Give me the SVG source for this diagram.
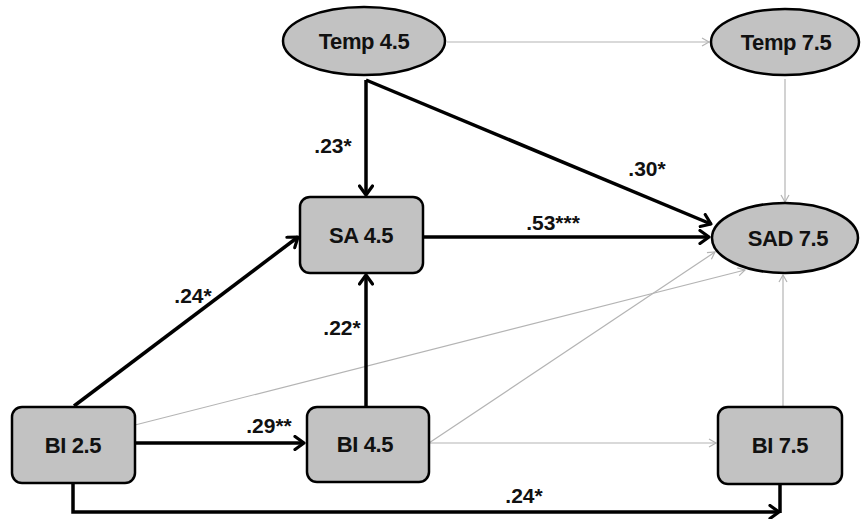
<svg xmlns="http://www.w3.org/2000/svg" width="861" height="519" viewBox="0 0 861 519">
  <style>
    .node { fill: #c2c2c2; stroke: #000; stroke-width: 2.5; }
    .nt { font-family: "Liberation Sans", Arial, sans-serif; font-weight: bold; font-size: 22px; letter-spacing: -0.4px; text-anchor: middle; fill: #111; }
    .lbl { font-family: "Liberation Sans", Arial, sans-serif; font-weight: bold; font-size: 21px; text-anchor: middle; fill: #111; }
    .thick { fill: none; stroke: #000; stroke-width: 3.5; }
    .thin { fill: none; stroke: #b4b4b4; stroke-width: 1.2; }
  </style>
  <defs>
    <marker id="ah" markerUnits="userSpaceOnUse" viewBox="0 0 16 16" markerWidth="16" markerHeight="16" refX="13" refY="8" orient="auto">
      <path d="M4,1.5 L13,8 L4,14.5" fill="none" stroke="#000" stroke-width="3.2" stroke-linecap="round" stroke-linejoin="round"/>
    </marker>
    <marker id="ahg" markerUnits="userSpaceOnUse" viewBox="0 0 12 12" markerWidth="12" markerHeight="12" refX="10" refY="6" orient="auto">
      <path d="M3,2 L10,6 L3,10" fill="none" stroke="#b4b4b4" stroke-width="1.2"/>
    </marker>
  </defs>

  <g id="connectors">
    <path class="thin" d="M447,42 H709" marker-end="url(#ahg)"/>
    <path class="thin" d="M785,79 V202" marker-end="url(#ahg)"/>
    <path class="thin" d="M135,425 L745,270" marker-end="url(#ahg)"/>
    <path class="thin" d="M429,443 L715,252" marker-end="url(#ahg)"/>
    <path class="thin" d="M429,443 H716" marker-end="url(#ahg)"/>
    <path class="thin" d="M783,406 V275" marker-end="url(#ahg)"/>

    <path class="thick" d="M366,80 V195" marker-end="url(#ah)"/>
    <path class="thick" d="M366,80 L711,224" marker-end="url(#ah)"/>
    <path class="thick" d="M423,237 H709" marker-end="url(#ah)"/>
    <path class="thick" d="M74,406 L298,237" marker-end="url(#ah)"/>
    <path class="thick" d="M366,407 V275" marker-end="url(#ah)"/>
    <path class="thick" d="M135,443 H304" marker-end="url(#ah)"/>
    <path class="thick" d="M73,483 V512 H779" marker-end="url(#ah)"/>
    <path class="thick" d="M780,484 V513"/>

    <text class="lbl" x="333" y="153">.23*</text>
    <text class="lbl" x="647" y="176">.30*</text>
    <text class="lbl" x="553" y="230">.53***</text>
    <text class="lbl" x="193" y="303">.24*</text>
    <text class="lbl" x="342" y="335">.22*</text>
    <text class="lbl" x="269" y="433">.29**</text>
    <text class="lbl" x="524" y="503">.24*</text>
  </g>

  <g id="temp45">
    <ellipse class="node" cx="364" cy="41" rx="81" ry="34"/>
    <text class="nt" x="364" y="49">Temp 4.5</text>
  </g>
  <g id="temp75">
    <ellipse class="node" cx="785" cy="42" rx="74" ry="33"/>
    <text class="nt" x="786" y="50">Temp 7.5</text>
  </g>
  <g id="sad75">
    <ellipse class="node" cx="785" cy="238" rx="73" ry="35"/>
    <text class="nt" x="788" y="246">SAD 7.5</text>
  </g>
  <g id="sa45">
    <rect class="node" x="300" y="197" width="123" height="76" rx="10"/>
    <text class="nt" x="361" y="243">SA 4.5</text>
  </g>
  <g id="bi25">
    <rect class="node" x="12" y="407" width="123" height="76" rx="10"/>
    <text class="nt" x="73" y="453">BI 2.5</text>
  </g>
  <g id="bi45">
    <rect class="node" x="307" y="407" width="122" height="75" rx="10"/>
    <text class="nt" x="365" y="452">BI 4.5</text>
  </g>
  <g id="bi75">
    <rect class="node" x="718" y="407" width="124" height="77" rx="10"/>
    <text class="nt" x="780" y="453">BI 7.5</text>
  </g>
</svg>
